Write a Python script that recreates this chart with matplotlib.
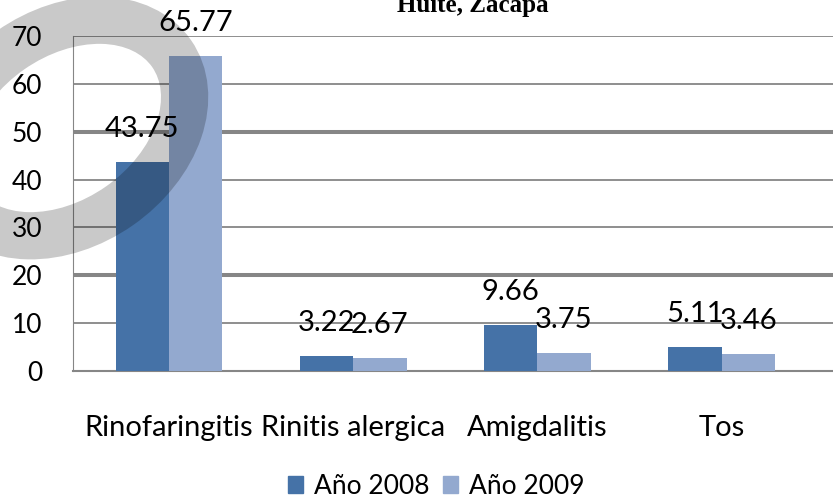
#Grafica de barras: casos por enfermedad respiratoria, Huite, Zacapa
import matplotlib
matplotlib.use('Agg')
import matplotlib.pyplot as plt
import numpy as np
from matplotlib.patches import Ellipse, Patch
from matplotlib.transforms import IdentityTransform

#Datos
categorias = ['Rinofaringitis', 'Rinitis alergica', 'Amigdalitis', 'Tos']
anio_2008 = [43.75, 3.22, 9.66, 5.11]
anio_2009 = [65.77, 2.67, 3.75, 3.46]
series = ['Año 2008', 'Año 2009']
ticks_y = [0, 10, 20, 30, 40, 50, 60, 70]

plt.rcParams['font.family'] = ['Lato', 'DejaVu Sans']

fig = plt.figure(figsize=(8.33, 5), dpi=100)
ax = fig.add_axes([0.0876, 0.258, 1 - 0.0876, 0.67])

x = np.arange(len(categorias))
ancho = 0.29
b1 = ax.bar(x - ancho/2, anio_2008, ancho, color='#4572A7', zorder=3)
b2 = ax.bar(x + ancho/2, anio_2009, ancho, color='#93A9CF', zorder=3)

#Etiquetas de datos
for barras, valores in [(b1, anio_2008), (b2, anio_2009)]:
    for b, v in zip(barras, valores):
        ax.annotate('%g' % v, (b.get_x() + b.get_width()/2, v),
                    xytext=(0, 18), textcoords='offset points',
                    ha='center', va='baseline', fontsize=21, zorder=5)

#Ejes
ax.set_ylim(0, 70)
ax.set_xlim(-0.521, 3.605)
ax.set_yticks(ticks_y)
ax.set_xticks(x)
ax.set_xticklabels(categorias)
ax.tick_params(axis='y', length=0, pad=22, labelsize=19)
ax.tick_params(axis='x', length=0, pad=32, labelsize=21)
ax.yaxis.grid(True, color='#868686', linewidth=1.3, zorder=0)
#Las lineas de 20 y 50 salen mas gruesas en el original
for v, linea in zip(ticks_y, ax.get_ygridlines()):
    if v in (20, 50):
        linea.set_linewidth(2.9)
for lado in ['top', 'right']:
    ax.spines[lado].set_visible(False)
ax.spines['left'].set_color('#868686')
ax.spines['left'].set_linewidth(0.8)
ax.spines['bottom'].set_color('#868686')
ax.spines['bottom'].set_linewidth(1.5)
ax.set_axisbelow(True)

#Titulo (cortado arriba)
fig.text(473/833, 1 - 12/500, 'Huite, Zacapa', ha='center', va='baseline',
         fontfamily='Liberation Serif', fontweight='bold', fontsize=18)

#Leyenda
manijas = [Patch(color='#4572A7'), Patch(color='#93A9CF')]
fig.legend(manijas, series, loc='center', bbox_to_anchor=(436/833, 1 - 486/500),
           ncol=2, frameon=False, fontsize=19, handlelength=0.6, handleheight=0.6,
           handletextpad=0.4, columnspacing=0.5)

#Marca de agua gris (anillo)
anillo = Ellipse((65, 500 - 128), 260, 190, angle=35, fill=False, edgecolor='black',
                 alpha=0.21, linewidth=34, transform=IdentityTransform(), zorder=10)
fig.add_artist(anillo)

fig.savefig('out.png', dpi=100)
